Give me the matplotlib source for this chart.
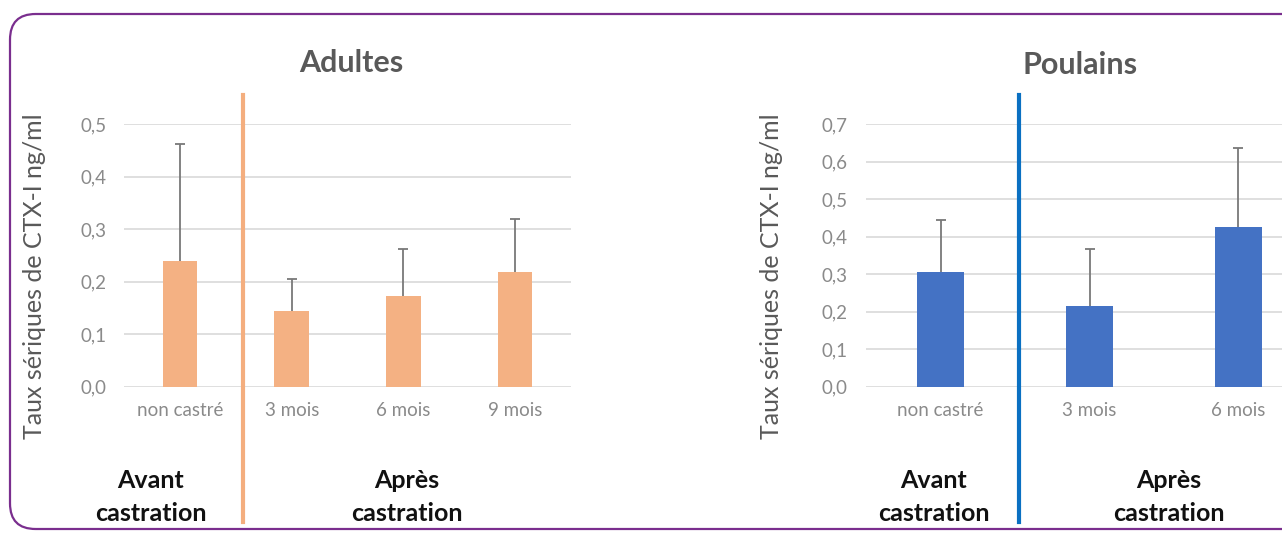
import matplotlib
matplotlib.use("Agg")
import matplotlib.pyplot as plt
from matplotlib.patches import FancyBboxPatch

# --- data -------------------------------------------------------------
adultes_categories = ["non castré", "3 mois", "6 mois", "9 mois"]
adultes_moyenne = [0.240, 0.145, 0.172, 0.218]
adultes_ecart = [0.222, 0.061, 0.090, 0.101]
adultes_ticks = [0.0, 0.1, 0.2, 0.3, 0.4, 0.5]

poulains_categories = ["non castré", "3 mois", "6 mois"]
poulains_moyenne = [0.305, 0.215, 0.425]
poulains_ecart = [0.140, 0.153, 0.211]
poulains_ticks = [0.0, 0.1, 0.2, 0.3, 0.4, 0.5, 0.6, 0.7]

ylabel = "Taux sériques de CTX-I ng/ml"
avant_label = "Avant\ncastration"
apres_label = "Après\ncastration"

# --- style ------------------------------------------------------------
plt.rcParams["font.family"] = ["Lato", "DejaVu Sans"]
W, H = 1282, 533
ORANGE = "#F4B183"
ORANGE_LINE = "#F4AE7E"
BLUE = "#4472C4"
BLUE_LINE = "#0A70C2"
GRID = "#D9D9D9"
TICK_C = "#8A8A8A"
TEXT_C = "#595959"
ERR_C = "#787878"

fig = plt.figure(figsize=(W / 100, H / 100), dpi=100)
fig.patch.set_facecolor("white")


def fx(px):
    return px / W


def fy(py):
    return 1 - py / H


# rounded frame around the panel
frame = FancyBboxPatch((fx(10), fy(529)), fx(1320) - fx(10), fy(14) - fy(529),
                       boxstyle="round,pad=0,rounding_size=0.02",
                       transform=fig.transFigure, fill=False,
                       edgecolor="#7A2E8E", linewidth=1.6, zorder=0,
                       mutation_aspect=W / H)
fig.patches.append(frame)


def fmt(v):
    return f"{v:.1f}".replace(".", ",")


def panel(x0, x1, y_top, y_bot, cats, means, errs, ticks, color, sep_x,
          sep_color, title, title_xy, ylabel_x, avant_x, apres_x):
    ax = fig.add_axes([fx(x0), fy(y_bot), fx(x1) - fx(x0), fy(y_top) - fy(y_bot)])
    xs = list(range(len(cats)))
    ax.bar(xs, means, width=0.31, color=color, zorder=2)
    # upper error bars only (plus direction)
    _, caps, _ = ax.errorbar(xs, means, yerr=[[0] * len(errs), errs],
                             fmt="none", ecolor=ERR_C, elinewidth=1.3,
                             capsize=3.4, capthick=1.3, zorder=3)
    caps[0].set_visible(False)
    ax.set_xlim(-0.5, len(cats) - 0.5)
    ax.set_ylim(ticks[0], ticks[-1])
    ax.set_yticks(ticks)
    ax.set_yticklabels([fmt(t) for t in ticks])
    ax.set_xticks(xs)
    ax.set_xticklabels(cats)
    ax.tick_params(axis="both", length=0, labelsize=13.5, labelcolor=TICK_C)
    ax.tick_params(axis="y", pad=13)
    ax.tick_params(axis="x", pad=11)
    ax.yaxis.grid(True, color=GRID, linewidth=1.2, zorder=0)
    ax.set_axisbelow(True)
    for s in ax.spines.values():
        s.set_visible(False)
    ax.set_facecolor("none")

    # separator line between "before" and "after" groups
    span = y_bot - y_top
    ax.axvline(sep_x, ymin=(y_bot - 522) / span, ymax=(y_bot - 95) / span,
               color=sep_color, linewidth=3.0, clip_on=False, zorder=4)

    fig.text(fx(title_xy[0]), fy(title_xy[1]), title, ha="center",
             va="baseline", fontsize=22, fontweight="bold", color=TEXT_C)
    fig.text(fx(ylabel_x), fy(276), ylabel, rotation=90, ha="center",
             va="center", fontsize=18, color=TEXT_C)
    for lx, lab in ((avant_x, avant_label), (apres_x, apres_label)):
        fig.text(fx(lx), fy(521), lab, ha="center", va="baseline",
                 fontsize=18, fontweight="bold", color="#111111",
                 linespacing=1.5)
    return ax


panel(124.2, 571.0, 124.3, 386.7, adultes_categories, adultes_moyenne,
      adultes_ecart, adultes_ticks, ORANGE, 0.567, ORANGE_LINE,
      "Adultes", (351, 72), 35, 151, 407)

panel(866.0, 1313.0, 124.0, 386.5, poulains_categories, poulains_moyenne,
      poulains_ecart, poulains_ticks, BLUE, 0.527, BLUE_LINE,
      "Poulains", (1080, 74), 772, 934, 1169)

fig.savefig("out.png", dpi=100, facecolor="white")
